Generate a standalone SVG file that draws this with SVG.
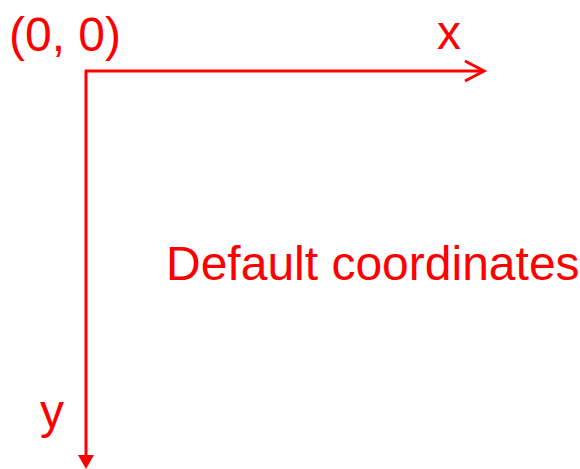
<svg xmlns="http://www.w3.org/2000/svg" width="580" height="469" viewBox="0 0 580 469">
<style>
text{font-family:"Liberation Sans",Arial,sans-serif;font-size:48px;fill:#ff0000}
.ax{stroke:#ff0000;stroke-width:3;fill:none}
</style>
<defs>
<marker id="open" markerUnits="userSpaceOnUse" markerWidth="24" markerHeight="26" refX="20" refY="11" orient="auto" viewBox="0 0 24 24">
<path d="M1,1 L20,11 L1,21" fill="none" stroke="#ff0000" stroke-width="3"/>
</marker>
</defs>
<g id="connectors">
<path class="ax" d="M85,71 H484" marker-end="url(#open)"/>
<path class="ax" d="M86,70 V456"/>
<polygon points="78,455 94,455 86,469" fill="#ff0000"/>
</g>
<g id="origin"><text x="9" y="51">(0, 0)</text></g>
<g id="xlabel"><text x="437" y="49">x</text></g>
<g id="ylabel"><text x="40" y="428">y</text></g>
<g id="title"><text x="166" y="280">Default coordinates</text></g>
</svg>
